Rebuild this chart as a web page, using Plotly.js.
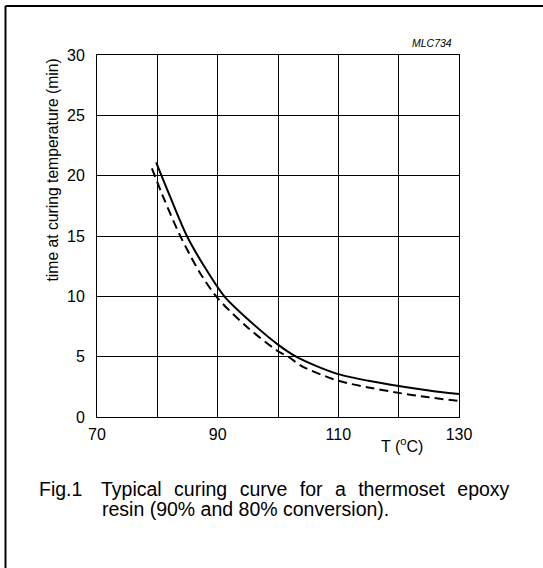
<!DOCTYPE html>
<html>
<head>
<meta charset="utf-8">
<script src="https://cdn.plot.ly/plotly-3.0.1.min.js"></script>
<style>
html,body{margin:0;padding:0;background:#fff;}
#chart{width:543px;height:568px;}
#chart g.annotation[data-index="4"] text{word-spacing:7px;}
</style>
</head>
<body>
<div id="chart"></div>
<script>
// 90% conversion (solid)
var temp90 = [79.8, 82, 84.9, 88, 91.1, 95, 100, 103, 106, 110, 115, 120, 125, 130];
var time90 = [21.1, 18.4, 15.0, 12.3, 10.0, 8.1, 6.0, 5.0, 4.3, 3.55, 3.0, 2.57, 2.2, 1.9];
// 80% conversion (dashed)
var temp80 = [79.1, 81, 83.8, 87, 90, 95, 100, 101.7, 104, 110, 115, 120, 125, 130];
var time80 = [20.6, 18.2, 15.0, 12.0, 9.85, 7.4, 5.45, 5.0, 4.2, 3.0, 2.45, 2.0, 1.63, 1.33];

var xTickLabels = [70, 90, 110, 130];
var yTickVals = [0, 5, 10, 15, 20, 25, 30];

var font = 'Liberation Sans, Arial, sans-serif';

var traces = [
  {x: temp90, y: time90, mode: 'lines', line: {color: '#000', width: 2, shape: 'spline', smoothing: 0.8}, hoverinfo: 'skip'},
  {x: temp80, y: time80, mode: 'lines', line: {color: '#000', width: 2, dash: '9px,5px', shape: 'spline', smoothing: 0.8}, hoverinfo: 'skip'}
];

var L = 97, R = 459, T = 55, B = 417, W = 543, H = 568;
function px(p) { return (p - L) / (R - L); }
function py(p) { return (B - p) / (B - T); }

var layout = {
  width: W, height: H,
  margin: {l: L, r: W - R, t: T, b: H - B, pad: 0},
  paper_bgcolor: '#fff', plot_bgcolor: '#fff',
  showlegend: false,
  font: {family: font, color: '#000'},
  xaxis: {
    range: [70, 130], tickvals: xTickLabels,
    showgrid: true, gridcolor: '#000', gridwidth: 1,
    minor: {dtick: 10, tick0: 70, showgrid: true, gridcolor: '#000', gridwidth: 1, ticks: ''},
    showline: true, linecolor: '#000', linewidth: 1, mirror: true,
    ticks: '', zeroline: false, fixedrange: true,
    ticklabelstandoff: 3,
    tickfont: {size: 16, family: font, color: '#000'}
  },
  yaxis: {
    range: [0, 30], tickvals: yTickVals,
    showgrid: true, gridcolor: '#000', gridwidth: 1,
    showline: true, linecolor: '#000', linewidth: 1, mirror: true,
    ticks: '', zeroline: false, fixedrange: true,
    ticklabelstandoff: 8,
    tickfont: {size: 16, family: font, color: '#000'}
  },
  shapes: [
    {type: 'line', xref: 'paper', yref: 'paper', x0: px(5.5), x1: px(545), y0: py(6), y1: py(6), line: {color: '#000', width: 2}},
    {type: 'line', xref: 'paper', yref: 'paper', x0: px(5.5), x1: px(5.5), y0: py(6), y1: py(570), line: {color: '#000', width: 2}}
  ],
  annotations: [
    {text: 'T (<sup>o</sup>C)', xref: 'paper', yref: 'paper', x: px(402), y: py(445), xanchor: 'center', yanchor: 'middle', showarrow: false, font: {size: 16, family: font}},
    {text: 'time at curing temperature (min)', xref: 'paper', yref: 'paper', x: px(52), y: py(57), xanchor: 'center', yanchor: 'top', textangle: -90, showarrow: false, font: {size: 15.7, family: font}},
    {text: '<i>MLC734</i>', xref: 'paper', yref: 'paper', x: px(454), y: py(43), xanchor: 'right', yanchor: 'middle', showarrow: false, font: {size: 10.5, family: font}},
    {text: 'Fig.1', xref: 'paper', yref: 'paper', x: px(37), y: py(489), xanchor: 'left', yanchor: 'middle', showarrow: false, font: {size: 19.5, family: font}},
    {text: 'Typical curing curve for a thermoset epoxy', xref: 'paper', yref: 'paper', x: px(120), y: py(489), xanchor: 'left', yanchor: 'middle', showarrow: false, font: {size: 19.5, family: font}},
    {text: 'resin (90% and 80% conversion).', xref: 'paper', yref: 'paper', x: px(100), y: py(509), xanchor: 'left', yanchor: 'middle', showarrow: false, font: {size: 19.5, family: font}}
  ]
};

Plotly.newPlot('chart', traces, layout, {staticPlot: true, displayModeBar: false});
</script>
</body>
</html>
